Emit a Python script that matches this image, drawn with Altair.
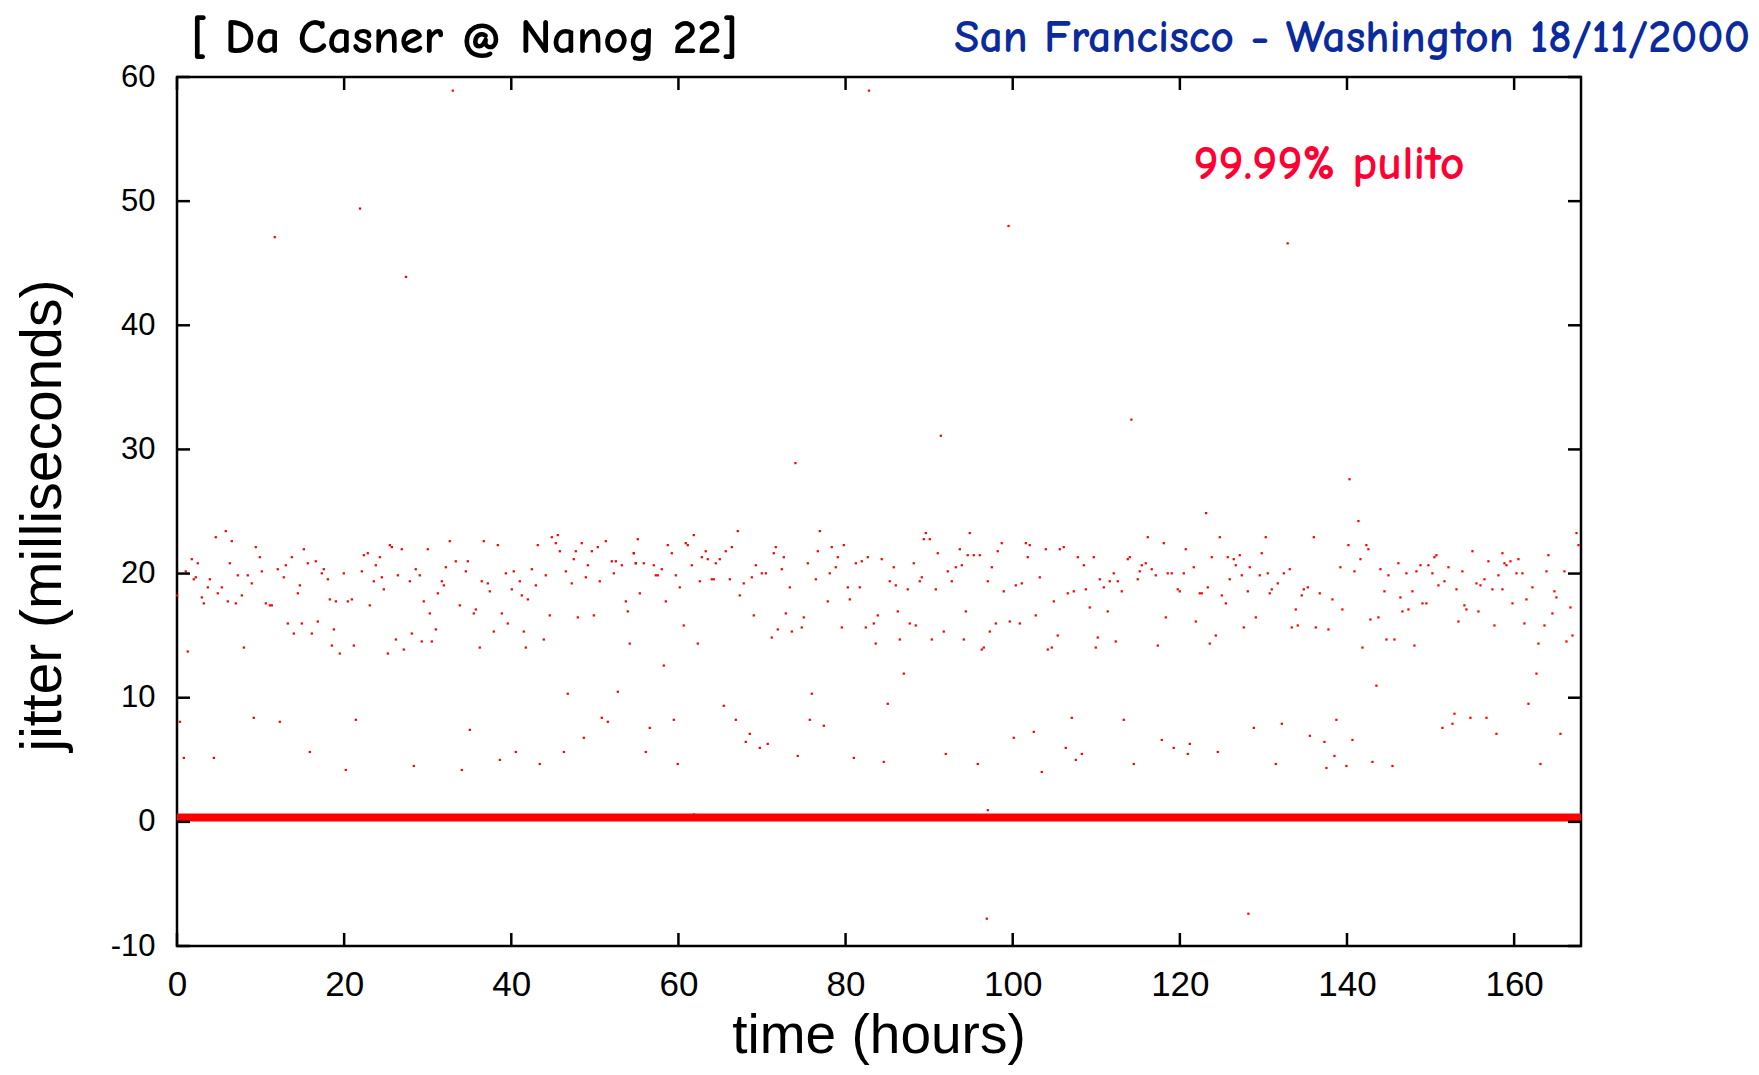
import altair as alt
import pandas as pd

# ---- axis ticks ----
x_ticks = [0, 20, 40, 60, 80, 100, 120, 140, 160]
y_ticks = [-10, 0, 10, 20, 30, 40, 50, 60]

# ---- jitter samples (hours, ms) ----
pts_0_27 = [
    (4.64,22.93),(5.84,23.42),(6.56,22.61),(1.77,21.16),(2.49,20.83),(1.05,20.18),(2.01,19.54),(2.25,19.70),
    (3.93,19.54),(3.69,18.89),(2.97,18.08),(3.21,17.60),(4.88,18.41),(5.36,18.89),(6.08,17.76),(6.32,20.83),
    (7.04,17.60),(7.28,19.86),(7.76,18.24),(8.47,19.86),(8.95,19.21),(9.43,22.13),(9.91,21.32),(10.15,20.18),
    (10.63,17.60),(11.11,17.44),(11.35,17.44),(12.06,20.35),(12.78,19.70),(13.02,20.67),(13.74,21.32),(14.46,18.41),
    (14.70,19.05),(15.18,21.96),(15.65,20.83),(16.61,20.99),(17.33,20.02),(17.57,20.35),(18.05,19.54),(18.29,17.92),
    (19.01,17.76),(19.96,20.02),(20.44,17.76),(20.92,17.92),(22.12,20.18),(22.36,21.48),(22.83,21.64),(23.07,17.44),
    (23.55,19.38),(23.79,20.67),(24.27,21.32),(24.51,19.70),(24.75,18.73),(25.47,22.29),(25.71,22.13),(26.43,19.86),
    (0.02,18.24),(1.29,13.72),(8.00,14.04),(13.26,15.98),(13.98,15.17),(14.94,15.98),(16.13,15.17),(16.85,16.14),
    (18.53,14.20),(18.77,15.50),(19.48,13.56),(21.16,14.20),(25.23,13.56),(26.19,14.69),
    (0.34,8.06),(0.82,5.15),(4.41,5.15),(9.19,8.38),(12.30,8.06),(15.89,5.63),(20.20,4.18),(21.40,8.22),
]
pts_27_54 = [
    (26.90,21.96),(30.01,21.96),(32.64,22.61),(36.71,22.61),(38.39,22.29),(43.17,22.29),(44.85,22.93),(45.33,22.45),
    (45.57,23.10),(45.81,21.80),(47.72,21.80),(48.44,22.45),(49.64,21.80),(50.35,22.13),(51.31,22.61),(55.14,22.77),
    (28.57,20.35),(29.05,19.86),(27.86,19.38),(31.69,19.38),(31.93,19.05),(32.17,20.51),(33.36,20.99),(34.80,20.99),
    (34.56,20.18),(31.21,18.41),(29.53,17.76),(30.25,16.79),(33.84,17.44),(35.52,16.79),(35.76,17.11),(36.47,19.38),
    (37.19,19.21),(37.43,18.57),(39.35,20.02),(40.30,20.18),(40.06,18.73),(41.02,19.38),(41.26,18.24),(41.98,17.92),
    (42.46,20.35),(42.94,19.05),(44.13,19.86),(44.61,16.63),(46.53,20.18),(47.24,19.21),(47.48,21.16),(47.96,16.47),
    (48.92,19.70),(49.16,20.67),(49.88,16.63),(50.59,19.38),(52.03,20.99),(52.51,20.99),(52.27,20.02),(53.23,20.67),
    (53.71,17.76),(53.94,16.95),(54.66,21.64),(54.90,20.83),
    (28.10,15.17),(29.29,14.53),(30.49,14.53),(30.97,15.50),(27.14,13.88),(36.23,14.04),(37.91,15.33),(38.87,16.79),
    (39.58,15.98),(41.50,15.33),(41.74,14.04),(43.89,14.69),(54.18,14.36),
    (46.76,10.32),(52.75,10.48),(50.83,8.38),(51.55,8.06),(35.04,7.41),(48.68,6.77),(40.54,5.63),(46.29,5.63),
    (38.63,4.99),(43.41,4.66),(28.34,4.50),(34.08,4.18),
]
pts_54_82 = [
    (54.66,21.64),(54.90,20.83),(55.86,20.83),(57.05,20.67),(57.29,19.86),(57.53,19.86),(58.01,20.35),
    (58.73,22.29),(59.21,21.64),(59.69,19.86),(60.88,22.45),(61.12,22.29),(61.84,23.10),(61.60,20.67),(60.16,18.89),
    (55.38,18.41),(58.49,17.76),(62.80,21.32),(63.27,21.80),(63.51,21.16),(62.56,19.38),(63.99,19.54),(64.23,19.54),
    (64.47,20.83),(64.95,21.16),(65.67,21.80),(66.39,22.13),(66.15,19.54),(67.10,23.42),(67.82,19.21),(67.34,18.24),
    (68.78,19.70),(69.26,20.67),(69.98,20.02),(70.46,20.02),(71.41,21.64),(71.65,22.13),(72.61,21.32),(72.37,20.35),
    (73.33,18.89),(75.48,20.83),(76.44,19.54),(76.68,21.80),(76.92,23.42),(78.11,20.02),(78.35,22.13),(78.83,20.51),
    (79.07,21.32),(79.79,22.29),(80.27,18.89),(80.51,17.92),(81.23,20.83),
    (60.64,15.82),(62.32,14.36),(58.25,12.59),(69.02,16.63),(71.17,14.85),(71.89,15.50),(72.85,16.79),(73.57,15.33),
    (74.76,15.66),(75.00,16.47),(77.87,17.76),(79.55,15.66),
    (75.96,10.32),(65.43,9.35),(59.45,8.22),(66.87,8.22),(75.72,8.22),(77.40,7.74),(56.57,7.57),(68.54,7.09),
    (68.06,6.44),(70.69,6.28),(69.74,5.96),(56.09,5.63),(74.28,5.31),(80.99,5.15),(59.92,4.66),(61.84,0.59),
]
pts_82_109 = [
    (81.70,18.89),(81.94,20.99),(82.66,21.32),(84.33,21.16),(85.77,20.51),(85.29,19.38),(86.01,19.05),(87.44,18.73),
    (88.16,20.83),(88.88,19.38),(89.12,19.70),(89.36,22.77),(89.60,23.26),(90.08,22.77),(91.03,21.64),(90.80,18.73),
    (92.23,20.18),(92.71,19.38),(93.19,20.51),(93.67,21.96),(93.91,20.67),(94.62,21.48),(94.86,23.26),(95.34,21.48),
    (96.06,21.48),(97.02,19.38),(97.50,20.51),(98.21,21.80),(98.69,22.45),(98.93,18.57),(100.37,19.05),(101.09,19.21),
    (101.57,22.45),(101.80,21.32),(102.04,22.29),(103.24,19.70),(103.96,21.96),(104.92,17.76),(105.63,21.96),
    (106.11,22.13),(106.59,18.41),(107.31,18.57),(107.79,21.32),(108.51,20.67),(108.75,18.73),
    (82.42,15.66),(83.38,15.98),(83.85,16.63),(83.61,14.36),(86.25,16.95),(86.49,14.69),(87.68,15.98),(88.40,15.82),
    (90.32,14.69),(91.75,15.33),(94.15,14.69),(94.39,16.95),(96.30,13.88),(96.54,14.04),(97.26,15.33),(97.98,15.98),
    (99.65,16.14),(100.85,15.98),(102.76,16.63),(104.20,13.88),(104.68,14.04),(105.39,15.01),
    (86.97,11.94),(85.05,9.51),(107.07,8.38),(102.52,7.25),(100.13,6.77),(106.35,5.96),(108.27,5.47),(91.99,5.47),
    (107.55,4.99),(84.57,4.83),(95.82,4.66),(103.48,4.02),(97.02,0.94),
]
pts_109_137 = [
    (109.22,17.27),(109.70,21.32),(110.42,19.54),(110.90,18.89),(111.61,19.38),(112.09,20.02),(112.57,19.38),
    (113.05,18.57),(113.77,21.16),(114.01,21.32),(114.96,19.54),(115.20,20.18),(115.44,20.67),(115.92,20.83),
    (116.16,22.93),(116.64,20.35),(117.12,19.86),(118.08,22.45),(118.55,20.02),(119.03,20.02),(119.75,18.73),
    (119.99,18.57),(120.47,20.02),(120.71,21.96),(121.67,20.51),(122.38,18.41),(122.62,18.41),(123.14,24.87),
    (123.34,18.89),(123.82,21.32),(124.78,22.93),(125.02,18.24),(125.50,17.60),(125.73,21.32),(125.97,19.54),
    (126.45,21.16),(126.69,20.67),(127.17,21.48),(127.41,19.86),(128.13,18.57),(128.37,20.51),(129.56,19.86),
    (129.80,21.64),(130.28,22.93),(130.52,20.02),(130.76,18.41),(131.00,18.73),(131.72,19.21),(132.44,20.02),
    (133.15,20.35),(133.87,17.11),(134.59,18.24),(134.83,18.73),(135.31,18.89),(136.03,22.93),
    (111.37,16.95),(110.18,14.85),(109.94,14.04),(112.33,14.53),(118.32,16.47),(117.36,14.20),(121.91,16.14),
    (123.58,14.36),(124.30,15.01),(127.65,15.66),(129.09,16.47),(133.39,15.66),(134.11,15.82),(136.27,15.66),
    (113.29,8.22),(128.85,7.57),(132.20,7.90),(135.55,6.93),(117.84,6.60),(119.27,5.96),(121.19,6.28),(120.95,5.47),
    (124.54,5.63),(114.49,4.66),(131.48,4.66),
]
pts_137_168 = [
    (141.37,24.23),(140.17,22.29),(142.32,22.29),(142.56,21.96),(141.61,21.16),(139.21,20.51),(140.89,20.18),
    (136.74,18.41),(138.26,17.92),(139.45,17.11),(137.78,15.50),(141.85,14.04),(142.80,16.30),(143.76,16.47),
    (144.00,20.35),(144.48,18.57),(144.96,19.86),(144.72,14.69),(145.68,14.69),(146.15,20.83),(146.39,18.08),
    (146.63,16.95),(147.11,20.02),(147.35,17.11),(147.83,18.57),(148.07,14.20),(148.31,20.18),(148.79,20.67),
    (149.03,17.60),(149.50,17.60),(149.74,20.67),(150.22,20.02),(150.46,21.32),(150.70,21.48),(150.94,19.05),
    (151.66,19.38),(152.14,20.51),(153.10,18.73),(153.33,16.14),(153.81,20.18),(154.05,17.44),(154.29,17.11),
    (155.01,21.80),(155.49,19.21),(155.73,16.95),(155.97,19.05),(156.45,19.54),(156.92,20.99),(157.40,18.73),
    (157.64,15.82),(158.12,19.86),(158.60,21.64),(158.60,18.73),(158.84,20.83),(159.08,20.67),(159.56,20.99),
    (159.80,17.60),(160.28,20.02),(160.51,21.16),(160.99,20.02),(161.23,15.98),(161.47,17.92),(162.19,18.89),
    (162.67,11.94),(162.91,14.36),(163.63,15.82),(163.87,20.18),(164.10,21.48),(164.58,16.79),(164.82,18.57),
    (165.06,18.08),(166.02,20.18),(166.26,14.53),(166.74,17.27),(166.98,15.01),(167.46,23.26),(167.70,22.29),
    (143.52,10.97),(161.71,9.51),(138.73,8.22),(152.86,8.71),(154.77,8.38),(156.69,8.38),(152.62,7.90),
    (151.42,7.57),(157.88,7.09),(165.54,7.09),(137.30,6.44),(140.65,6.60),(138.50,5.31),(137.54,4.34),
    (139.93,4.50),(143.04,4.83),(145.44,4.50),(163.15,4.66),
]
outliers = [
    (33.0,58.9),(82.8,58.9),(11.7,47.1),(21.9,49.4),(27.4,43.9),(99.5,48.0),(132.9,46.6),
    (91.4,31.1),(114.2,32.4),(74.0,28.9),(140.3,27.6),(96.9,-7.8),(128.2,-7.4),
]
# the dense run of near-zero samples forming the thick red band
baseline_hours = [0, 168]
baseline_jitter = [0.35, 0.35]

all_pts = pts_0_27 + pts_27_54 + pts_54_82 + pts_82_109 + pts_109_137 + pts_137_168 + outliers
df = pd.DataFrame(all_pts, columns=["h", "j"])
base_df = pd.DataFrame({"h": baseline_hours, "j": baseline_jitter})

W, H = 1404, 869
xs = alt.Scale(domain=[0, 168], nice=False, zero=False)
ys = alt.Scale(domain=[-10, 60], nice=False, zero=False)

xaxis = alt.Axis(values=x_ticks, title=None, labelFontSize=35, labelPadding=21, labelFlush=False,
                 labelFont="Liberation Sans", labelColor="black", labelExpr="datum.value + ''")
yaxis = alt.Axis(values=y_ticks, title=None, labelFontSize=31, labelPadding=22, labelFlush=False,
                 labelFont="Liberation Sans", labelColor="black", labelExpr="datum.value + ''")

points = alt.Chart(df).mark_square(size=5, color="#ff0000", opacity=1, strokeWidth=0).encode(
    x=alt.X("h:Q", scale=xs, axis=xaxis),
    y=alt.Y("j:Q", scale=ys, axis=yaxis),
)

band = alt.Chart(base_df).mark_line(color="#ff0000", strokeWidth=8, strokeCap="butt").encode(
    x=alt.X("h:Q", scale=xs), y=alt.Y("j:Q", scale=ys)
)

xt = pd.DataFrame({"v": x_ticks})
yt = pd.DataFrame({"v": y_ticks})
tick_style = dict(color="black", strokeWidth=2.5)
tb = alt.Chart(xt).mark_rule(**tick_style).encode(x=alt.X("v:Q", scale=xs), y=alt.value(H), y2=alt.value(H - 13))
tt = alt.Chart(xt).mark_rule(**tick_style).encode(x=alt.X("v:Q", scale=xs), y=alt.value(0), y2=alt.value(13))
tl = alt.Chart(yt).mark_rule(**tick_style).encode(y=alt.Y("v:Q", scale=ys), x=alt.value(0), x2=alt.value(13))
tr = alt.Chart(yt).mark_rule(**tick_style).encode(y=alt.Y("v:Q", scale=ys), x=alt.value(W - 13), x2=alt.value(W))

def label(txt, x, y, size, color, align, font, angle=0, weight="normal"):
    return alt.Chart(pd.DataFrame({"t": [txt]})).mark_text(
        fontSize=size, color=color, align=align, baseline="alphabetic", font=font, angle=angle,
        fontWeight=weight,
    ).encode(text="t:N", x=alt.value(x), y=alt.value(y))

comic = "Comic Sans MS, Comic Neue, Open Sans"
t_left = label("[ Da Casner @ Nanog 22]", 14, -24, 49, "black", "left", comic, weight="bold")
t_right = label("San Francisco - Washington 18/11/2000", 1573, -25, 46, "#0a2a9e", "right", comic, weight="bold")
t_note = label("99.99% pulito", 1152, 102, 48, "#ff0033", "center", comic, weight="bold")
t_x = label("time (hours)", W / 2, H + 107, 55, "black", "center", "Liberation Sans")
t_y = label("jitter (milliseconds)", -116, H / 2 + 4, 57, "black", "center", "Liberation Sans", angle=270)

chart = alt.layer(band, points, tb, tt, tl, tr, t_left, t_right, t_note, t_x, t_y).properties(
    width=W, height=H,
    padding={"left": 169, "top": 69, "right": 170, "bottom": 121},
    autosize=alt.AutoSizeParams(type="none"),
    background="white",
).configure_view(stroke="black", strokeWidth=2.5).configure_axis(
    grid=False, domain=False, ticks=False
)

chart.save("out.html", embed_options={"renderer": "svg", "actions": False})
